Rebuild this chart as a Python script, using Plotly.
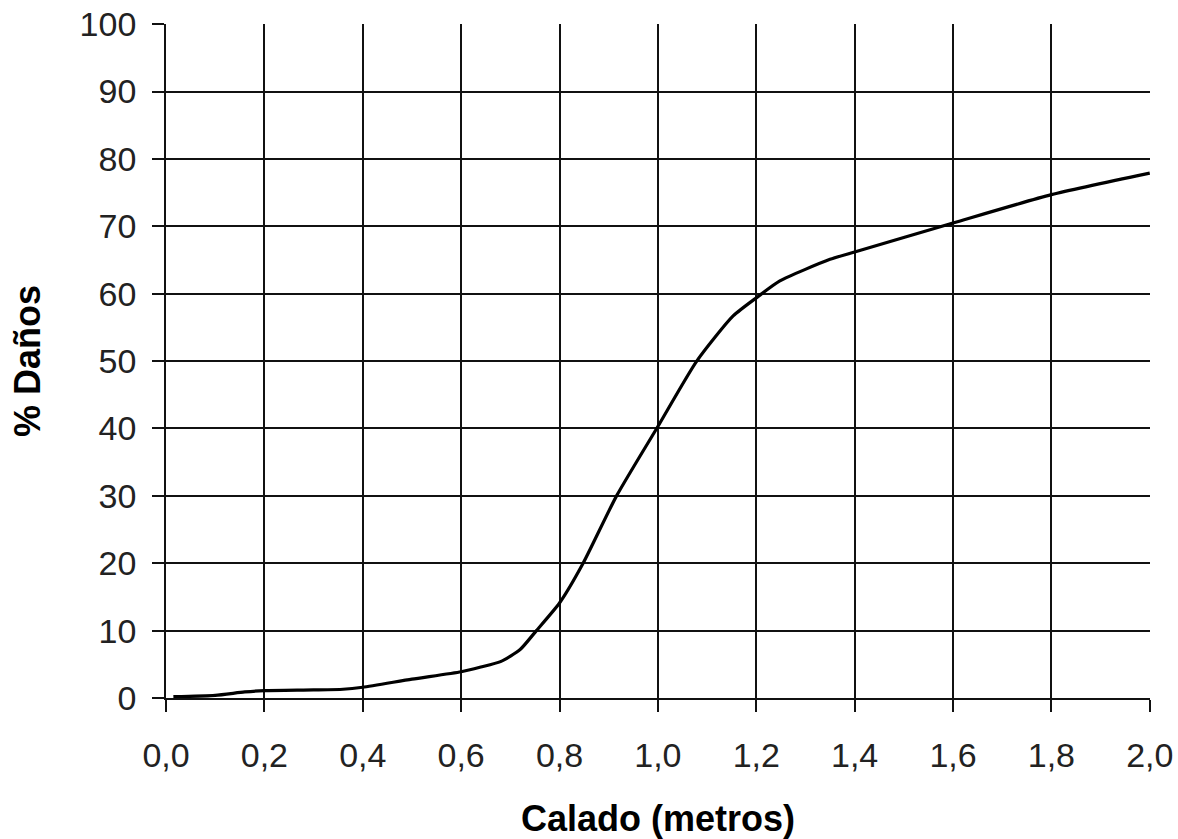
import plotly.graph_objects as go

calado = [0.015, 0.1, 0.16, 0.2, 0.3, 0.36, 0.4, 0.5, 0.6, 0.64, 0.68, 0.72, 0.753,
          0.8, 0.848, 0.916, 1.0, 1.079, 1.153, 1.204, 1.248, 1.35, 1.4, 1.6, 1.8, 2.0]
danos = [0.2, 0.4, 0.9, 1.1, 1.2, 1.3, 1.6, 2.8, 3.9, 4.6, 5.4, 7.2, 10.0,
         14.1, 20.0, 30.0, 40.3, 50.0, 56.7, 59.6, 61.9, 65.1, 66.2, 70.5, 74.7, 77.9]

x_ticks = [0.0, 0.2, 0.4, 0.6, 0.8, 1.0, 1.2, 1.4, 1.6, 1.8, 2.0]
x_labels = ["0,0", "0,2", "0,4", "0,6", "0,8", "1,0", "1,2", "1,4", "1,6", "1,8", "2,0"]
y_ticks = [0, 10, 20, 30, 40, 50, 60, 70, 80, 90, 100]

fig = go.Figure()
fig.add_trace(go.Scatter(x=calado, y=danos, mode="lines",
                         line=dict(color="black", width=3.2, shape="spline", smoothing=0.6),
                         showlegend=False))

font = "Liberation Sans, Arial, sans-serif"
fig.update_layout(
    width=1178, height=839,
    margin=dict(l=166, r=28, t=24, b=141, autoexpand=False),
    paper_bgcolor="white", plot_bgcolor="white",
    font=dict(family=font, color="black"),
)
fig.update_xaxes(
    range=[0, 2.0005], tickvals=x_ticks, ticktext=x_labels,
    showgrid=True, gridcolor="#111", gridwidth=1.8,
    showline=True, linecolor="#111", linewidth=1.8,
    ticks="outside", ticklen=12, tickwidth=1.8, tickcolor="#111",
    tickfont=dict(size=34, color="#222"), ticklabelstandoff=14,
    ticklabeloverflow="allow",
    zeroline=False, automargin=False,
    title=dict(text="<b>Calado (metros)</b>", font=dict(size=36), standoff=40),
)
fig.update_yaxes(
    range=[0, 100.03], tickvals=y_ticks,
    showgrid=True, gridcolor="#111", gridwidth=1.8,
    showline=True, linecolor="#111", linewidth=1.8,
    ticks="outside", ticklen=12, tickwidth=1.8, tickcolor="#111",
    tickfont=dict(size=34, color="#222"), ticklabelstandoff=9,
    ticklabeloverflow="allow",
    zeroline=False, automargin=False,
    title=dict(text="<b>% Daños</b>", font=dict(size=36), standoff=28),
)

fig.write_html("out.html",
               config={"displayModeBar": False},
               post_script="document.body.style.margin='0';document.body.style.overflow='hidden';")
